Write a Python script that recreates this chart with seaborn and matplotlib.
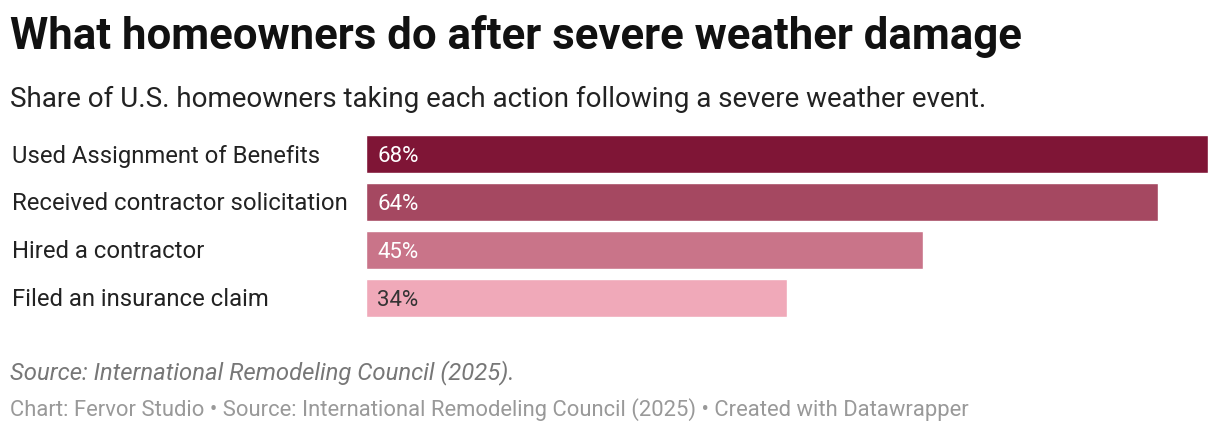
import matplotlib
matplotlib.use("Agg")
import matplotlib.pyplot as plt
import seaborn as sns
import pandas as pd

actions = ["Used Assignment of Benefits", "Received contractor solicitation",
           "Hired a contractor", "Filed an insurance claim"]
shares = [68, 64, 45, 34]
colors = ["#7f1536", "#a54861", "#c97489", "#f0a9b9"]
label_colors = ["white", "white", "white", "#333333"]

df = pd.DataFrame({"action": actions, "share": shares})

sns.set_theme(style="white")
plt.rcParams['font.family'] = ['Roboto', 'DejaVu Sans']

fig = plt.figure(figsize=(12.2, 4.32), dpi=100)
ax = fig.add_axes([0.3, 0.255, 0.69, 0.444])
sns.barplot(data=df, x="share", y="action", hue="action", palette=colors,
            legend=False, width=0.8, saturation=1, ax=ax, orient="h")
ax.set_xlim(0, 68)
ax.set_ylim(3.5, -0.5)
ax.set_xlabel("")
ax.set_ylabel("")
ax.set_xticks([])
ax.set_yticks([])
for s in ax.spines.values():
    s.set_visible(False)

for i, (a, v) in enumerate(zip(actions, shares)):
    ax.text(0.9, i + 0.05, f"{v}%", color=label_colors[i], fontsize=16,
            va="center", ha="left")
    fig.text(12 / 1220, 1 - (156 + 48 * i) / 432, a, fontsize=17.2,
             color="#222222", va="center", ha="left")

fig.text(10 / 1220, 1 - 36 / 432, "What homeowners do after severe weather damage",
         fontsize=31.5, fontweight="bold", color="#111111", va="center")
fig.text(10 / 1220, 1 - 99 / 432,
         "Share of U.S. homeowners taking each action following a severe weather event.",
         fontsize=20, color="#222222", va="center")
fig.text(10 / 1220, 1 - 373 / 432, "Source: International Remodeling Council (2025).",
         fontsize=17.2, style="italic", color="#777777", va="center")
fig.text(10 / 1220, 1 - 410 / 432,
         "Chart: Fervor Studio \u2022 Source: International Remodeling Council (2025) \u2022 Created with Datawrapper",
         fontsize=15.8, color="#999999", va="center")

fig.savefig("out.png", dpi=100, facecolor="white")
